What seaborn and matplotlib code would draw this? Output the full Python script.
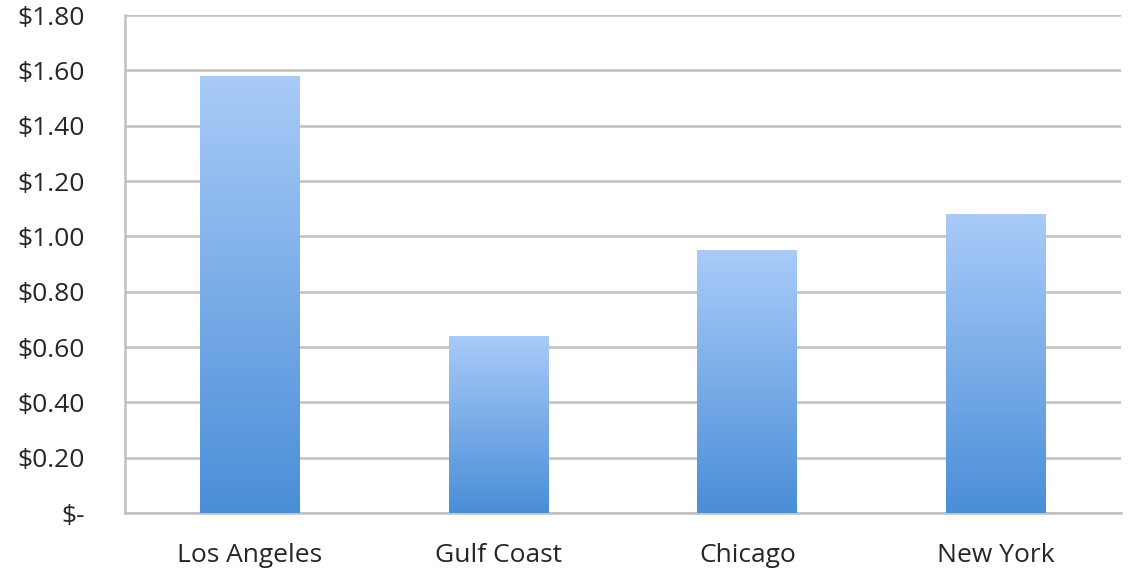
import matplotlib
matplotlib.use("Agg")
import matplotlib.pyplot as plt
import numpy as np
import pandas as pd
import seaborn as sns
from matplotlib.colors import LinearSegmentedColormap
from matplotlib.ticker import FuncFormatter, MultipleLocator

regions = ["Los Angeles", "Gulf Coast", "Chicago", "New York"]
prices = [1.58, 0.64, 0.95, 1.08]

df = pd.DataFrame({"region": regions, "price": prices})

sns.set_style("white")
plt.rcParams["font.family"] = ["Open Sans", "DejaVu Sans"]

fig = plt.figure(figsize=(11.47, 5.81), dpi=100)
ax = fig.add_axes([0.109, 0.117, 0.868, 0.857])

sns.barplot(data=df, x="region", y="price", color="#7fb0ea", width=0.4,
            saturation=1, ax=ax, zorder=3)

# vertical gradient fill for each bar
grad = LinearSegmentedColormap.from_list("bar", ["#4a8ed8", "#a9cbf8"])
img = np.linspace(0, 1, 256).reshape(-1, 1)
for p in ax.patches:
    x0, y0 = p.get_x(), p.get_y()
    w, h = p.get_width(), p.get_height()
    im = ax.imshow(img, cmap=grad, origin="lower", aspect="auto",
                   extent=[x0, x0 + w, y0, y0 + h], zorder=3)
    im.set_clip_path(p)
    p.set_facecolor("none")
    p.set_edgecolor("none")

ax.set_xlim(-0.5, len(regions) - 0.5)
ax.set_ylim(0, 1.8)
ax.yaxis.set_major_locator(MultipleLocator(0.2))
ax.yaxis.set_major_formatter(
    FuncFormatter(lambda v, _: "$-" if abs(v) < 1e-9 else f"${v:.2f}"))

ax.grid(axis="y", color="#c0c0c0", linewidth=1.8, zorder=0)
ax.set_axisbelow(True)
for s in ["top", "right"]:
    ax.spines[s].set_visible(False)
for s in ["left", "bottom"]:
    ax.spines[s].set_color("#c0c0c0")
    ax.spines[s].set_linewidth(1.8)

# x ticks at category boundaries, labels centered
ax.set_xticks(np.arange(-0.5, len(regions), 1.0))
ax.set_xticklabels([])
ax.set_xticks(np.arange(len(regions)), minor=True)
ax.set_xticklabels(regions, minor=True)
ax.tick_params(axis="x", which="major", length=8, width=1.8, color="#c0c0c0",
               direction="out")
ax.tick_params(axis="x", which="minor", length=0, pad=21.5, labelsize=19,
               labelcolor="#262626")
ax.tick_params(axis="y", length=9, width=1.8, color="#c0c0c0", pad=20,
               labelsize=19, labelcolor="#262626")

ax.set_xlabel("")
ax.set_ylabel("")

fig.savefig("out.png", dpi=100)
